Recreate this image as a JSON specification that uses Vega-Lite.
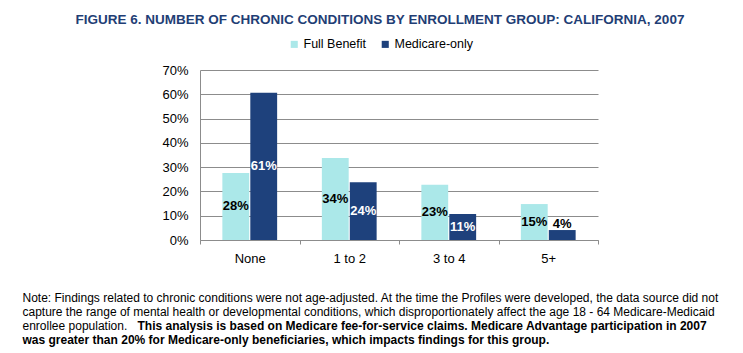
{
  "$schema": "https://vega.github.io/schema/vega-lite/v6.json",
  "width": 398,
  "height": 170,
  "autosize": {"type": "none"},
  "padding": {"left": 200, "top": 70, "right": 145, "bottom": 113},
  "background": "white",
  "title": {
    "text": "FIGURE 6. NUMBER OF CHRONIC CONDITIONS BY ENROLLMENT GROUP:  CALIFORNIA, 2007",
    "font": "Liberation Sans",
    "fontSize": 13.5,
    "fontWeight": "bold",
    "color": "#1F3E75",
    "anchor": "middle",
    "baseline": "alphabetic",
    "dx": -19,
    "offset": 1
  },
  "data": {
    "values": [
      {"category": "None", "group": "Full Benefit", "value": 0.276},
      {"category": "None", "group": "Medicare-only", "value": 0.606},
      {"category": "1 to 2", "group": "Full Benefit", "value": 0.338},
      {"category": "1 to 2", "group": "Medicare-only", "value": 0.238},
      {"category": "3 to 4", "group": "Full Benefit", "value": 0.227},
      {"category": "3 to 4", "group": "Medicare-only", "value": 0.107},
      {"category": "5+", "group": "Full Benefit", "value": 0.148},
      {"category": "5+", "group": "Medicare-only", "value": 0.041}
    ]
  },
  "encoding": {
    "x": {
      "field": "category",
      "type": "nominal",
      "sort": ["None", "1 to 2", "3 to 4", "5+"],
      "scale": {"paddingInner": 0, "paddingOuter": 0},
      "axis": {
        "labelAngle": 0,
        "labelFont": "Liberation Sans",
        "labelFontSize": 13,
        "labelColor": "#000000",
        "labelPadding": 8,
        "domainColor": "#8C8C8C",
        "tickColor": "#8C8C8C",
        "tickSize": 4,
        "tickBand": "extent",
        "title": [
          "Note: Findings related to chronic conditions were not age-adjusted. At the time the Profiles were developed, the data source did not",
          "capture the range of mental health or developmental conditions, which disproportionately affect the age 18 - 64 Medicare-Medicaid",
          "enrollee population."
        ],
        "titleX": -178,
        "titleY": 61,
        "titleAlign": "left",
        "titleAnchor": "start",
        "titleBaseline": "alphabetic",
        "titleLineHeight": 14,
        "titleFont": "Liberation Sans",
        "titleFontSize": 12,
        "titleFontWeight": "normal",
        "titleColor": "#000000"
      }
    },
    "xOffset": {
      "field": "group",
      "type": "nominal",
      "sort": ["Full Benefit", "Medicare-only"],
      "scale": {"paddingInner": 0.04, "paddingOuter": 0.8}
    }
  },
  "layer": [
    {
      "mark": {"type": "bar"},
      "encoding": {
        "y": {
          "field": "value",
          "type": "quantitative",
          "scale": {"domain": [0, 0.7], "nice": false},
          "axis": {
            "format": ".0%",
            "values": [0, 0.1, 0.2, 0.3, 0.4, 0.5, 0.6, 0.7],
            "grid": true,
            "gridColor": "#8C8C8C",
            "gridOpacity": 1,
            "domain": true,
            "domainColor": "#8C8C8C",
            "ticks": false,
            "labelFont": "Liberation Sans",
            "labelFontSize": 13,
            "labelColor": "#000000",
            "labelPadding": 12,
            "title": "This analysis is based on Medicare fee-for-service claims. Medicare Advantage participation in 2007",
            "titleX": -63,
            "titleY": 259,
            "titleAngle": 0,
            "titleAlign": "left",
            "titleAnchor": "start",
            "titleBaseline": "alphabetic",
            "titleFont": "Liberation Sans",
            "titleFontSize": 12,
            "titleFontWeight": "bold",
            "titleColor": "#000000"
          }
        },
        "color": {
          "field": "group",
          "type": "nominal",
          "sort": ["Full Benefit", "Medicare-only"],
          "scale": {"domain": ["Full Benefit", "Medicare-only"], "range": ["#ABE8E9", "#1E417C"]},
          "legend": {
            "orient": "none",
            "legendX": 88,
            "legendY": -32,
            "direction": "horizontal",
            "title": null,
            "symbolType": "square",
            "symbolSize": 50,
            "symbolStrokeWidth": 0,
            "labelFont": "Liberation Sans",
            "labelFontSize": 12.5,
            "labelColor": "#000000",
            "columnPadding": 12,
            "labelOffset": 3
          }
        }
      }
    },
    {
      "transform": [
        {"calculate": "datum.value < 0.05 ? datum.value + 0.026 : datum.value / 2", "as": "labelPos"}
      ],
      "mark": {"type": "text", "font": "Liberation Sans", "fontSize": 13, "fontWeight": "bold", "baseline": "middle"},
      "encoding": {
        "y": {
          "field": "labelPos",
          "type": "quantitative",
          "scale": {"domain": [0, 0.7], "nice": false},
          "axis": {
            "orient": "right",
            "grid": false,
            "domain": false,
            "ticks": false,
            "labels": false,
            "title": "was greater than 20% for Medicare-only beneficiaries, which impacts findings for this group.",
            "titleX": -576,
            "titleY": 273,
            "titleAngle": 0,
            "titleAlign": "left",
            "titleAnchor": "start",
            "titleBaseline": "alphabetic",
            "titleFont": "Liberation Sans",
            "titleFontSize": 12,
            "titleFontWeight": "bold",
            "titleColor": "#000000"
          }
        },
        "text": {"field": "value", "type": "quantitative", "format": ".0%"},
        "color": {
          "condition": {"test": "datum.group == 'Medicare-only' && datum.value > 0.05", "value": "#FFFFFF"},
          "value": "#000000"
        }
      }
    }
  ],
  "resolve": {"axis": {"y": "independent"}},
  "config": {"view": {"stroke": null}}
}
